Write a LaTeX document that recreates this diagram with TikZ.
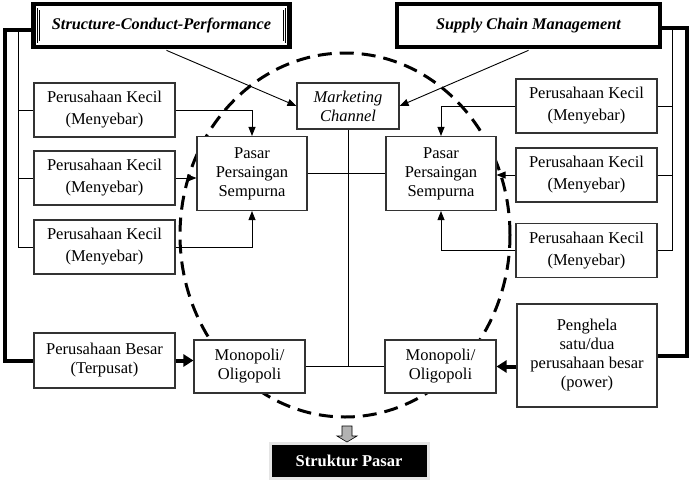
\documentclass[tikz,border=0pt]{standalone}
\usepackage{fontspec}
\setmainfont{Liberation Serif}
\usetikzlibrary{arrows.meta}

\tikzstyle{firmbox}=[draw=black!80,fill=white,line width=1.1pt,align=center,inner sep=0pt,font=\fontsize{16.5}{19}\selectfont]
\tikzstyle{smallfirm}=[firmbox,minimum width=141pt,minimum height=54pt,font=\fontsize{16.5}{22}\selectfont]
\tikzstyle{market}=[firmbox,minimum width=110pt,minimum height=74pt]
\tikzstyle{monopoly}=[firmbox,minimum width=111pt,minimum height=53pt]
\tikzstyle{titlebox}=[draw,fill=white,double,double distance=1.2pt,line width=0.7pt,minimum height=33pt,inner sep=0pt,font=\fontsize{16.3}{19}\selectfont\bfseries\itshape]
\tikzstyle{thickframe}=[draw,line width=4.5pt]
\tikzstyle{link}=[draw,line width=0.9pt,-]
\tikzstyle{feed}=[link,-{Triangle[length=9pt,width=7pt]}]
\tikzstyle{bus}=[draw,line width=4pt]
\tikzstyle{busarrow}=[bus,-{Triangle[length=10pt,width=12pt]}]
\tikzstyle{ovaldash}=[draw,line width=3pt,dash pattern=on 14pt off 8pt]
\tikzstyle{resultbox}=[fill=black,draw=gray!20,line width=3pt,text=white,minimum width=158pt,minimum height=35pt,inner sep=0pt,font=\fontsize{16.5}{19}\selectfont\bfseries]

\begin{document}
\begin{tikzpicture}[x=1pt,y=-1pt]
	\useasboundingbox (0,0) rectangle (694,480);
	% dashed oval behind the boxes
	\path[ovaldash] (345,235) ellipse [x radius=165pt, y radius=182pt];

	% titles
	\node[titlebox,minimum width=246pt] (scp) at (161.5,25.5) {Structure-Conduct-Performance};
	\node[titlebox,minimum width=253pt] (scm) at (528.5,25.5) {Supply Chain Management};
	\draw[thickframe] ([shift={(-4.5,-4.5)}]scp.north west) rectangle ([shift={(4.5,4.5)}]scp.south east);
	\draw[thickframe] ([shift={(-4.5,-4.5)}]scm.north west) rectangle ([shift={(4.5,4.5)}]scm.south east);

	% left side
	\node[smallfirm] (lk1) at (104.5,110) {Perusahaan Kecil\\(Menyebar)};
	\node[smallfirm] (lk2) at (104.5,178) {Perusahaan Kecil\\(Menyebar)};
	\node[smallfirm] (lk3) at (104.5,247) {Perusahaan Kecil\\(Menyebar)};
	\node[firmbox,minimum width=141pt,minimum height=55pt] (besar) at (104.5,360.5) {Perusahaan Besar\\(Terpusat)};
	\node[market] (psl) at (252,173.5) {Pasar\\Persaingan\\Sempurna};
	\node[monopoly] (mol) at (249.5,366.5) {Monopoli/\\Oligopoli};

	% middle
	\node[firmbox,minimum width=102pt,minimum height=46pt,font=\fontsize{16.5}{19}\selectfont\itshape] (mc) at (348,106) {Marketing\\Channel};

	% right side
	\node[market] (psr) at (441,173.5) {Pasar\\Persaingan\\Sempurna};
	\node[monopoly] (mor) at (440.5,366.5) {Monopoli/\\Oligopoli};
	\node[smallfirm] (rk1) at (586.5,106) {Perusahaan Kecil\\(Menyebar)};
	\node[smallfirm] (rk2) at (586.5,175) {Perusahaan Kecil\\(Menyebar)};
	\node[smallfirm] (rk3) at (586.5,250.5) {Perusahaan Kecil\\(Menyebar)};
	\node[firmbox,minimum width=140pt,minimum height=103pt] (pgh) at (587,355.5) {Penghela\\satu/dua\\perusahaan besar\\(power)};

	% result
	\node[resultbox] (sp) at (349,460.5) {Struktur Pasar};
	\draw[fill=gray!60,line width=0.6pt] (342,426) -- (352,426) -- (352,436) -- (357,436) -- (347,442) -- (337,436) -- (342,436) -- cycle;

	% thick lines
	\coordinate (lcorner) at (5,30);
	\coordinate (rcorner) at (687,28);
	\path[bus] ([xshift=-4.5pt,yshift=-4.5pt]scp.west) -- (lcorner) |- (besar.west);
	\path[bus] ([xshift=4.5pt,yshift=-2.5pt]scm.east) -- (rcorner) |- (pgh.east);
	\path[busarrow] (besar.east) -- (besar.east -| mol.west);
	\path[busarrow] (pgh.west |- mor.east) -- (mor.east);

	% thin buses
	\coordinate (ltop) at (18,30);
	\coordinate (rtop) at (672,28);
	\path[link] (ltop) |- (lk3.west);
	\path[link] (rtop) |- (rk3.east);
	\foreach \firm in {lk1,lk2}
		\path[link] (ltop |- \firm.west) -- (\firm.west);
	\foreach \firm in {rk1,rk2}
		\path[link] (rtop |- \firm.east) -- (\firm.east);

	% arrows into the markets
	\path[feed] ([xshift=5pt,yshift=-8pt]scp.south) -- (mc.west);
	\path[feed] ([yshift=-8pt]scm.south) -- (mc.east);
	\path[feed] (lk1.east) -| (psl.north);
	\path[feed] (lk2.east) -- (lk2.east -| psl.west);
	\path[feed] (lk3.east) -| (psl.south);
	\path[feed] (rk1.west) -| (psr.north);
	\path[feed] (rk2.west) -- (rk2.west -| psr.east);
	\path[feed] (rk3.west) -| (psr.south);

	% channel lines
	\path[link] (mc.south) -- (mc.south |- mol.east);
	\path[link] (psl.east) -- (psr.west);
	\path[link] (mol.east) -- (mor.west);
\end{tikzpicture}
\end{document}
